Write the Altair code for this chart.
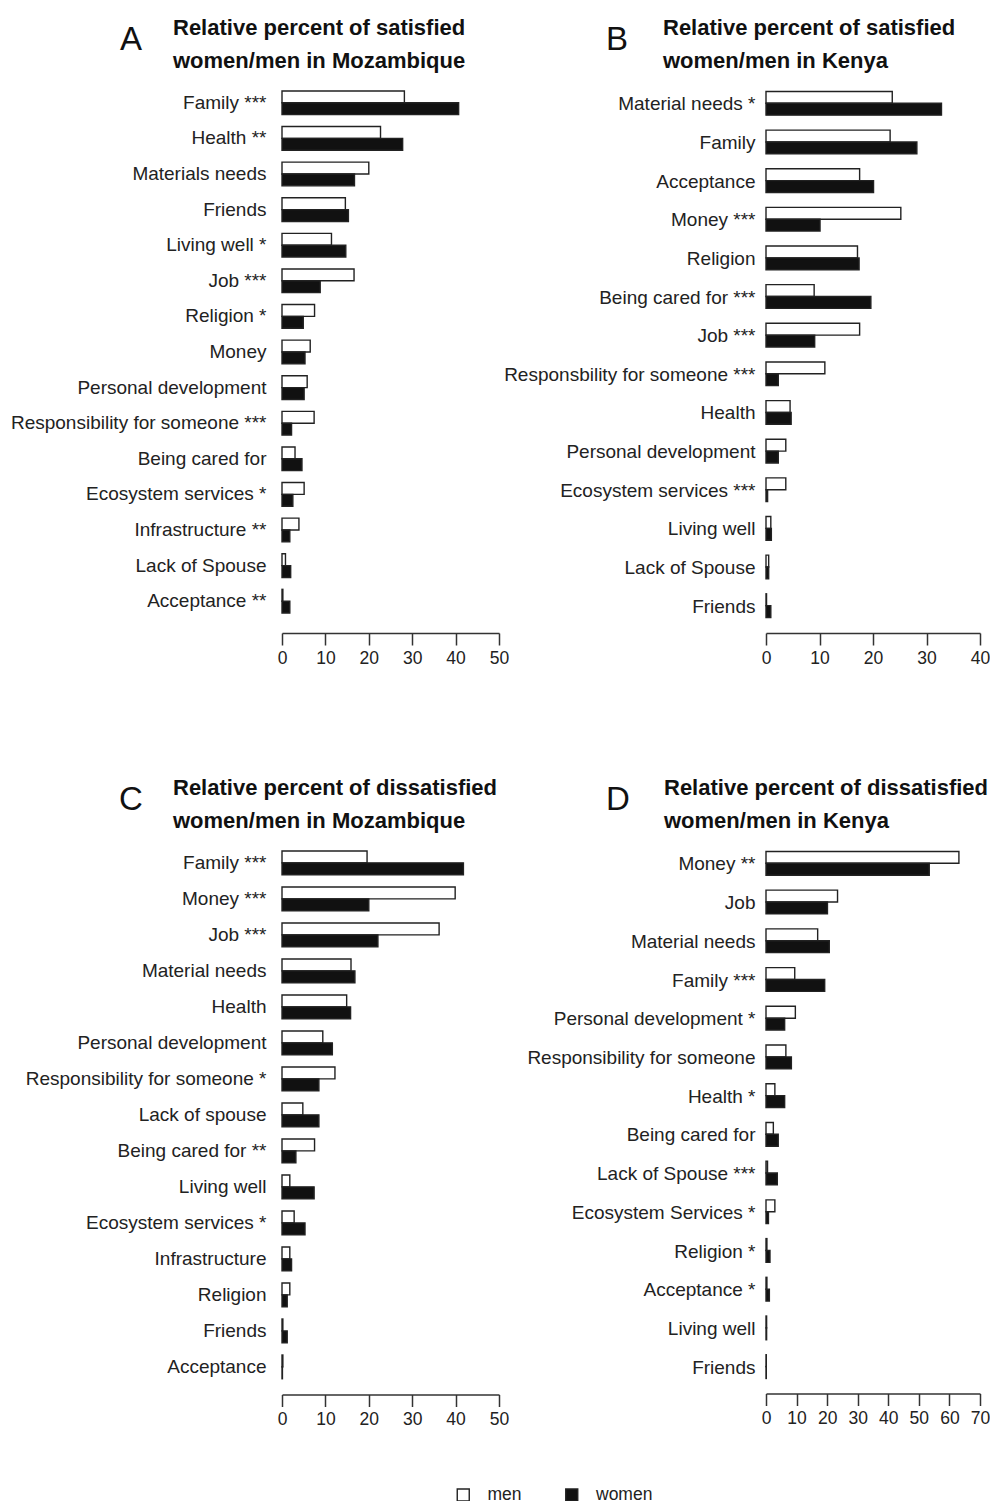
import altair as alt
import pandas as pd

# ---------------- data ----------------
sex_labels = ["men", "women"]
fill_colors = ["white", "#111111"]

title_a = ["Relative percent of satisfied", "women/men in Mozambique"]
cats_a = ["Family ***", "Health **", "Materials needs", "Friends", "Living well *",
          "Job ***", "Religion *", "Money", "Personal development",
          "Responsibility for someone ***", "Being cared for", "Ecosystem services *",
          "Infrastructure **", "Lack of Spouse", "Acceptance **"]
men_a = [28.2, 22.7, 20.0, 14.6, 11.4, 16.6, 7.5, 6.5, 5.8, 7.4, 3.0, 5.1, 3.9, 0.8, 0.2]
women_a = [40.7, 27.8, 16.7, 15.3, 14.7, 8.8, 4.9, 5.3, 5.1, 2.2, 4.6, 2.5, 1.8, 2.0, 1.8]

title_b = ["Relative percent of satisfied", "women/men in Kenya"]
cats_b = ["Material needs *", "Family", "Acceptance", "Money ***", "Religion",
          "Being cared for ***", "Job ***", "Responsbility for someone ***", "Health",
          "Personal development", "Ecosystem services ***", "Living well",
          "Lack of Spouse", "Friends"]
men_b = [23.6, 23.2, 17.5, 25.2, 17.1, 9.0, 17.5, 11.0, 4.5, 3.7, 3.7, 0.9, 0.5, 0.1]
women_b = [32.8, 28.2, 20.1, 10.1, 17.4, 19.6, 9.1, 2.3, 4.7, 2.3, 0.3, 1.0, 0.5, 0.9]

title_c = ["Relative percent of dissatisfied", "women/men in Mozambique"]
cats_c = ["Family ***", "Money ***", "Job ***", "Material needs", "Health",
          "Personal development", "Responsibility for someone *", "Lack of spouse",
          "Being cared for **", "Living well", "Ecosystem services *", "Infrastructure",
          "Religion", "Friends", "Acceptance"]
men_c = [19.6, 39.9, 36.2, 15.9, 14.9, 9.4, 12.2, 4.8, 7.5, 1.8, 2.8, 1.8, 1.8, 0.2, 0.2]
women_c = [41.8, 20.0, 22.1, 16.8, 15.8, 11.6, 8.5, 8.5, 3.2, 7.4, 5.3, 2.2, 1.2, 1.2, 0.1]

title_d = ["Relative percent of dissatisfied", "women/men in Kenya"]
cats_d = ["Money **", "Job", "Material needs", "Family ***", "Personal development *",
          "Responsibility for someone", "Health *", "Being cared for",
          "Lack of Spouse ***", "Ecosystem Services *", "Religion *", "Acceptance *",
          "Living well", "Friends"]
men_d = [63.1, 23.4, 16.9, 9.4, 9.6, 6.5, 2.9, 2.4, 0.5, 2.9, 0.3, 0.3, 0.2, 0.1]
women_d = [53.4, 20.1, 20.7, 19.2, 6.1, 8.3, 6.1, 4.0, 3.7, 0.8, 1.3, 1.1, 0.2, 0.1]

FONT = "Liberation Sans"


def panel(letter, title, cats, men, women, xmax, width, height, offset, min_extent,
          label_pad, letter_x, title_x):
    df = pd.DataFrame({
        "item": cats + cats,
        "sex": ["men"] * len(cats) + ["women"] * len(cats),
        "value": men + women,
    })
    bars = alt.Chart(df).mark_bar(stroke="#222222", strokeWidth=1.4).encode(
        y=alt.Y("item:N", sort=cats,
                scale=alt.Scale(paddingInner=1 / 3, paddingOuter=1 / 6),
                axis=alt.Axis(title=None, domain=False, ticks=False, labelPadding=label_pad,
                              labelFont=FONT, labelFontSize=19, labelColor="#222222",
                              labelLimit=500, minExtent=min_extent)),
        yOffset=alt.YOffset("sex:N", sort=sex_labels,
                            scale=alt.Scale(paddingInner=0, paddingOuter=0)),
        x=alt.X("value:Q", scale=alt.Scale(domain=[0, xmax], nice=False),
                axis=alt.Axis(title=None, values=list(range(0, xmax + 1, 10)), grid=False,
                              offset=offset, tickSize=12, tickWidth=1.5, domainWidth=1.5,
                              domainColor="#333333", tickColor="#333333",
                              labelFont=FONT, labelFontSize=17.5, labelColor="#222222",
                              labelPadding=4, labelFlush=False)),
        fill=alt.Fill("sex:N", scale=alt.Scale(domain=sex_labels, range=fill_colors),
                      legend=alt.Legend(title=None, orient="none", legendX=172.5,
                                        legendY=1401,
                                        direction="horizontal", symbolType="square",
                                        symbolSize=144, symbolStrokeColor="#222222",
                                        symbolStrokeWidth=1.4, labelFont=FONT,
                                        labelFontSize=17.5, labelColor="#222222",
                                        labelOffset=15.5, columnPadding=39.5)),
    )
    layers = [bars]
    lab = alt.Chart(pd.DataFrame({"t": [letter]})).mark_text(
        font=FONT, fontSize=33, color="#111111", align="center", baseline="alphabetic"
    ).encode(text="t:N", x=alt.value(letter_x), y=alt.value(-35))
    layers.append(lab)
    for i, line in enumerate(title):
        tl = alt.Chart(pd.DataFrame({"t": [line]})).mark_text(
            font=FONT, fontSize=22, fontWeight="bold", color="#111111",
            align="left", baseline="alphabetic"
        ).encode(text="t:N", x=alt.value(title_x), y=alt.value(-50.5 + 33 * i))
        layers.append(tl)
    return alt.layer(*layers).properties(width=width, height=height)


pa = panel("A", title_a, cats_a, men_a, women_a, 50, 217, 534, 14, 271, 16, -151, -109)
pb = panel("B", title_b, cats_b, men_b, women_b, 40, 214, 541, 7, 260, 11, -149, -103)
pc = panel("C", title_c, cats_c, men_c, women_c, 50, 217, 540, 9.5, 271, 16, -151, -109)
pd_ = panel("D", title_d, cats_d, men_d, women_d, 70, 214, 542, 6.5, 260, 11, -148, -102)

chart = alt.concat(pa, pb, pc, pd_, columns=2, spacing={"row": 218, "column": 267},
                   bounds="flush", align="all").properties(
    padding={"left": 2, "top": 8, "right": 0, "bottom": 0},
    background="white",
).configure_view(stroke=None)

chart.save("out.html", embed_options={"renderer": "svg", "actions": False})
